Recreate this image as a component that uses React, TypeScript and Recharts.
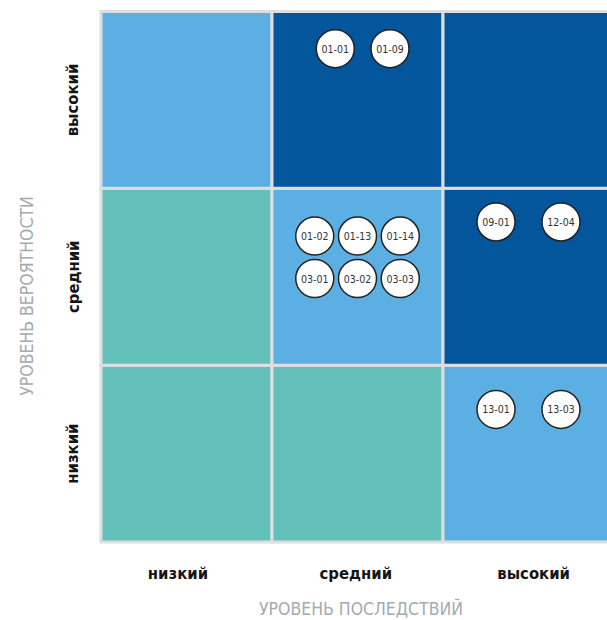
import React from "react";
import {
  ScatterChart,
  Scatter,
  XAxis,
  YAxis,
  ReferenceArea,
  Label,
} from "recharts";

const levels = ["низкий", "средний", "высокий"];
const xTickPos = [0.45, 1.49, 2.53];
const yTickPos = [0.5, 1.5, 2.5];

// cell colour keys, rows from bottom (низкий) to top (высокий), columns left to right
const cellRows = [
  ["teal", "teal", "light"],
  ["teal", "light", "dark"],
  ["light", "dark", "dark"],
];

const risks = [
  { id: "01-01", x: 1.37, y: 2.79 },
  { id: "01-09", x: 1.69, y: 2.79 },
  { id: "01-02", x: 1.25, y: 1.73 },
  { id: "01-13", x: 1.5, y: 1.73 },
  { id: "01-14", x: 1.75, y: 1.73 },
  { id: "03-01", x: 1.25, y: 1.49 },
  { id: "03-02", x: 1.5, y: 1.49 },
  { id: "03-03", x: 1.75, y: 1.49 },
  { id: "09-01", x: 2.31, y: 1.81 },
  { id: "12-04", x: 2.69, y: 1.81 },
  { id: "13-01", x: 2.31, y: 0.75 },
  { id: "13-03", x: 2.69, y: 0.75 },
];

const COLORS: Record<string, string> = {
  light: "#5CAFE2",
  teal: "#63C0BA",
  dark: "#03569B",
  grid: "#DDDEDF",
  tick: "#151515",
  title: "#A3ABB0",
};

const FONT = '"DejaVu Sans Condensed", "DejaVu Sans", sans-serif';

function XTick({ x, payload }: any) {
  return (
    <text
      x={x}
      y={573}
      textAnchor="middle"
      dominantBaseline="central"
      fontFamily={FONT}
      fontWeight={700}
      fontSize={16.5}
      fill={COLORS.tick}
    >
      {levels[payload.index]}
    </text>
  );
}

function YTick({ y, payload }: any) {
  return (
    <text
      x={73}
      y={y}
      transform={`rotate(-90, 73, ${y})`}
      textAnchor="middle"
      dominantBaseline="central"
      fontFamily={FONT}
      fontWeight={700}
      fontSize={16.5}
      fill={COLORS.tick}
    >
      {levels[payload.index]}
    </text>
  );
}

function RiskDot({ cx, cy, payload }: any) {
  return (
    <g>
      <circle cx={cx} cy={cy} r={19} fill="#fff" stroke="#222" strokeWidth={1.5} />
      <text
        x={cx}
        y={cy}
        textAnchor="middle"
        dominantBaseline="central"
        fontFamily={FONT}
        fontSize={10.5}
        fill="#333"
      >
        {payload.id}
      </text>
    </g>
  );
}

export default function App() {
  return (
    <div
      style={{
        position: "fixed",
        left: 0,
        top: 0,
        width: 607,
        height: 620,
        overflow: "hidden",
        background: "#fff",
      }}
    >
      <ScatterChart
        width={620}
        height={620}
        margin={{ top: 11.5, right: 6, bottom: 0, left: 0 }}
      >
        <XAxis
          type="number"
          dataKey="x"
          domain={[0, 3]}
          ticks={xTickPos}
          interval={0}
          axisLine={false}
          tickLine={false}
          height={78}
          tick={<XTick />}
        >
          <Label
            content={() => (
              <text
                x={361}
                y={609}
                textAnchor="middle"
                dominantBaseline="central"
                fontFamily={FONT}
                fontSize={17.5}
                fill={COLORS.title}
              >
                УРОВЕНЬ ПОСЛЕДСТВИЙ
              </text>
            )}
          />
        </XAxis>
        <YAxis
          type="number"
          dataKey="y"
          domain={[0, 3]}
          ticks={yTickPos}
          interval={0}
          axisLine={false}
          tickLine={false}
          width={101}
          tick={<YTick />}
        >
          <Label
            content={() => (
              <text
                x={27}
                y={296}
                transform="rotate(-90, 27, 296)"
                textAnchor="middle"
                dominantBaseline="central"
                fontFamily={FONT}
                fontSize={17.5}
                fill={COLORS.title}
              >
                УРОВЕНЬ ВЕРОЯТНОСТИ
              </text>
            )}
          />
        </YAxis>
        {cellRows.map((row, r) =>
          row.map((c, i) => (
            <ReferenceArea
              key={`${r}-${i}`}
              x1={i}
              x2={i + 1}
              y1={r}
              y2={r + 1}
              fill={COLORS[c]}
              fillOpacity={1}
              stroke={COLORS.grid}
              strokeWidth={3}
            />
          ))
        )}
        <Scatter data={risks} shape={<RiskDot />} isAnimationActive={false} />
      </ScatterChart>
    </div>
  );
}
